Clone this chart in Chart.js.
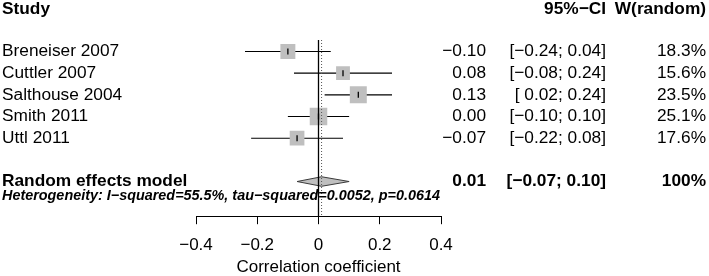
<!DOCTYPE html>
<html>
<head>
<meta charset="utf-8">
<script src="https://cdn.jsdelivr.net/npm/chart.js@4.4.0/dist/chart.umd.min.js"></script>
<style>
  html, body { margin: 0; padding: 0; background: #fff; }
  #wrap { position: relative; width: 709px; height: 276px; }
</style>
</head>
<body>
<div id="wrap"><canvas id="forest"></canvas></div>
<script>
// study-level data
const studies = ['Breneiser 2007', 'Cuttler 2007', 'Salthouse 2004', 'Smith 2011', 'Uttl 2011'];
const estimates = [-0.10, 0.08, 0.13, 0.00, -0.07];
const ciLower = [-0.24, -0.08, 0.02, -0.10, -0.22];
const ciUpper = [0.04, 0.24, 0.24, 0.10, 0.08];
const weights = [18.3, 15.6, 23.5, 25.1, 17.6];

// pooled (random effects) result
const pooledLabel = 'Random effects model';
const pooledEst = 0.01;
const pooledLower = -0.07;
const pooledUpper = 0.10;
const pooledWeight = '100%';
const heterogeneity = 'Heterogeneity: I\u2212squared=55.5%, tau\u2212squared=0.0052, p=0.0614';

const headers = ['Study', '95%\u2212CI', 'W(random)'];
const xTickValues = [-0.4, -0.2, 0, 0.2, 0.4];
const xTickLabels = ['\u22120.4', '\u22120.2', '0', '0.2', '0.4'];
const xTitle = 'Correlation coefficient';

const FONT = '"Liberation Sans", Arial, Helvetica, sans-serif';
const pooledRow = 6;
const yMin = -0.53, yMax = 7.6;

const fmt = v => v.toFixed(2).replace('-', '\u2212');
const fmtCI = (lo, hi) => '[' + (lo < 0 ? fmt(lo) : ' ' + fmt(lo)) + '; ' + fmt(hi) + ']';

// CI whiskers, one small line per study
const ciSets = studies.map((s, i) => ({
  type: 'line',
  data: [{ x: ciLower[i], y: i }, { x: ciUpper[i], y: i }],
  borderColor: '#000',
  borderWidth: 1.1,
  pointRadius: 0,
  order: 5
}));

const datasets = [
  ...ciSets,
  {
    // weight boxes, side ~ sqrt(weight)
    type: 'scatter',
    data: estimates.map((e, i) => ({ x: e, y: i })),
    pointStyle: 'rect',
    pointRadius: weights.map(w => 3.5 * Math.sqrt(w) / Math.SQRT2),
    backgroundColor: '#bfbfbf',
    borderWidth: 0,
    order: 4
  },
  {
    // little tick at each point estimate
    type: 'scatter',
    data: estimates.map((e, i) => ({ x: e, y: i })),
    pointStyle: 'line',
    rotation: 90,
    pointRadius: 3,
    borderColor: '#000',
    borderWidth: 1.3,
    order: 3
  },
  {
    // pooled diamond
    type: 'line',
    data: [
      { x: pooledLower, y: pooledRow },
      { x: pooledEst, y: pooledRow - 0.22 },
      { x: pooledUpper, y: pooledRow },
      { x: pooledEst, y: pooledRow + 0.22 },
      { x: pooledLower, y: pooledRow }
    ],
    fill: 'shape',
    backgroundColor: '#bfbfbf',
    borderColor: '#3a3a3a',
    borderWidth: 1,
    pointRadius: 0,
    tension: 0,
    order: 2
  },
  {
    // line of no effect
    type: 'line',
    data: [{ x: 0, y: yMin }, { x: 0, y: yMax }],
    borderColor: '#000',
    borderWidth: 1.3,
    pointRadius: 0,
    order: 1
  },
  {
    // pooled estimate, dotted
    type: 'line',
    data: [{ x: pooledEst, y: yMin }, { x: pooledEst, y: yMax }],
    borderColor: '#555',
    borderWidth: 1,
    borderDash: [1, 2],
    pointRadius: 0,
    order: 0
  }
];

// text columns drawn against the y scale rows
const tablePlugin = {
  id: 'forestTable',
  afterDraw(chart) {
    const ctx = chart.ctx;
    const y = chart.scales.y;
    const put = (text, x, row, align, font) => {
      ctx.font = font;
      ctx.textAlign = align;
      ctx.fillText(text, x, y.getPixelForValue(row));
    };
    ctx.save();
    ctx.fillStyle = '#000';
    ctx.textBaseline = 'middle';
    const reg = '17.3px ' + FONT;
    const bold = 'bold 17.3px ' + FONT;

    put(headers[0], 2, -1.95, 'left', bold);
    put(headers[1], 606, -1.95, 'right', bold);
    put(headers[2], 706, -1.95, 'right', bold);

    studies.forEach((s, i) => {
      put(s, 2, i, 'left', reg);
      put(fmt(estimates[i]), 486, i, 'right', reg);
      put(fmtCI(ciLower[i], ciUpper[i]), 606, i, 'right', reg);
      put(weights[i].toFixed(1) + '%', 706, i, 'right', reg);
    });

    put(pooledLabel, 2, pooledRow, 'left', bold);
    put(fmt(pooledEst), 486, pooledRow, 'right', bold);
    put(fmtCI(pooledLower, pooledUpper), 606, pooledRow, 'right', bold);
    put(pooledWeight, 706, pooledRow, 'right', bold);

    put(heterogeneity, 2, pooledRow + 0.66, 'left', 'italic bold 14.4px ' + FONT);
    ctx.restore();
  }
};

new Chart(document.getElementById('forest'), {
  type: 'line',
  data: { datasets },
  options: {
    responsive: true,
    maintainAspectRatio: false,
    animation: false,
    events: [],
    layout: { padding: { left: 196, right: 268, top: 40, bottom: 0 } },
    plugins: { legend: { display: false }, tooltip: { enabled: false } },
    scales: {
      x: {
        type: 'linear',
        position: 'bottom',
        min: -0.4,
        max: 0.4,
        afterBuildTicks: s => { s.ticks = xTickValues.map(v => ({ value: v })); },
        grid: { drawOnChartArea: false, drawTicks: true, tickLength: 8, color: '#000', lineWidth: 1 },
        border: { display: true, color: '#000', width: 1 },
        ticks: {
          color: '#000',
          padding: 11,
          maxRotation: 0,
          font: { size: 17, family: FONT },
          callback: (v, i) => xTickLabels[i]
        },
        title: {
          display: true,
          text: xTitle,
          color: '#000',
          font: { size: 17, family: FONT },
          padding: { top: -9, bottom: -2 }
        }
      },
      y: {
        type: 'linear',
        reverse: true,
        min: yMin,
        max: yMax,
        display: false
      }
    }
  },
  plugins: [tablePlugin]
});
</script>
</body>
</html>
